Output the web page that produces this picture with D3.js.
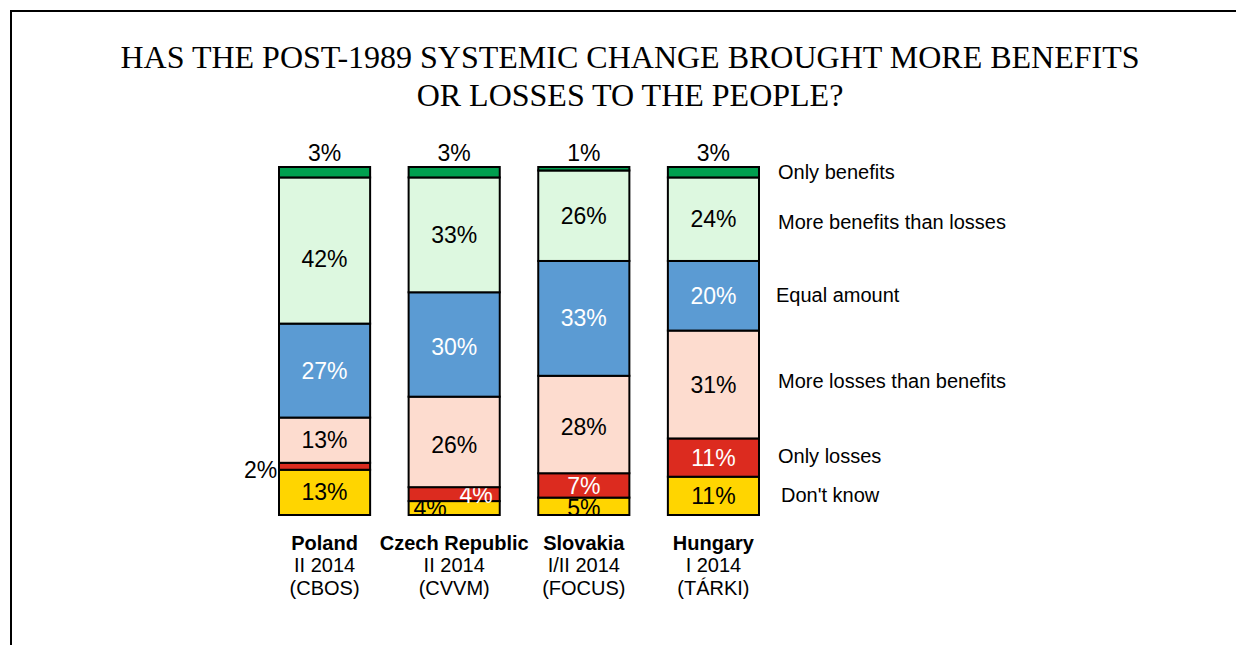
<!DOCTYPE html>
<html>
<head>
<meta charset="utf-8">
<script src="https://cdn.jsdelivr.net/npm/d3@7"></script>
<style>
  body { margin: 0; background: #fff; }
  text { font-family: Arial, "Liberation Sans", sans-serif; }
</style>
</head>
<body>
<svg width="1236" height="645"></svg>
<script>
var countries = ["Poland", "Czech Republic", "Slovakia", "Hungary"];
var surveyDates = ["II 2014", "II 2014", "I/II 2014", "I 2014"];
var surveySources = ["(CBOS)", "(CVVM)", "(FOCUS)", "(TÁRKI)"];

// stacked bottom -> top
var answers = ["Don't know", "Only losses", "More losses than benefits",
               "Equal amount", "More benefits than losses", "Only benefits"];
var dontKnow      = [13, 4, 5, 11];
var onlyLosses    = [2, 4, 7, 11];
var moreLosses    = [13, 26, 28, 31];
var equalAmount   = [27, 30, 33, 20];
var moreBenefits  = [42, 33, 26, 24];
var onlyBenefits  = [3, 3, 1, 3];

var colors = ["#FFD500", "#DC2B1F", "#FDDCCF", "#5B9BD3", "#DDF8E0", "#00A04F"];
var whiteText = {"Only losses": true, "Equal amount": true};

var svg = d3.select("svg"),
    width = +svg.attr("width"),
    height = +svg.attr("height");

// frame
svg.append("rect")
    .attr("x", 11).attr("y", 11)
    .attr("width", 1400).attr("height", 800)
    .attr("fill", "none").attr("stroke", "#000").attr("stroke-width", 2);

// title
var title = svg.append("g")
    .attr("font-size", 32)
    .attr("text-anchor", "middle");
title.append("text").attr("x", 630).attr("y", 68)
    .style("font-family", "'Times New Roman', 'Liberation Serif', serif")
    .text("HAS THE POST-1989 SYSTEMIC CHANGE BROUGHT MORE BENEFITS");
title.append("text").attr("x", 630).attr("y", 106)
    .style("font-family", "'Times New Roman', 'Liberation Serif', serif")
    .text("OR LOSSES TO THE PEOPLE?");

var rows = countries.map(function(c, i) {
  return {
    country: c,
    "Don't know": dontKnow[i],
    "Only losses": onlyLosses[i],
    "More losses than benefits": moreLosses[i],
    "Equal amount": equalAmount[i],
    "More benefits than losses": moreBenefits[i],
    "Only benefits": onlyBenefits[i]
  };
});

var x = d3.scaleBand()
    .domain(countries)
    .range([279, 759])
    .paddingInner(0.297)
    .paddingOuter(0);

var y = d3.scaleLinear()
    .domain([0, 100])
    .range([515, 167]);

var color = d3.scaleOrdinal().domain(answers).range(colors);

var series = d3.stack().keys(answers)(rows);

var layer = svg.append("g").selectAll("g")
    .data(series)
    .enter().append("g")
      .attr("fill", function(d) { return color(d.key); });

layer.selectAll("rect")
    .data(function(d) { return d.map(function(p) { p.key = d.key; return p; }); })
    .enter().append("rect")
      .attr("x", function(d) { return x(d.data.country); })
      .attr("y", function(d) { return y(d[1]); })
      .attr("width", x.bandwidth())
      .attr("height", function(d) { return y(d[0]) - y(d[1]); })
      .attr("stroke", "#000")
      .attr("stroke-width", 2);

// label nudges (dx, dy from the default centred spot)
var nudge = {
  "Poland|More benefits than losses": {dx: 0, dy: 8},
  "Poland|Only losses": {dx: -64, dy: 4, outside: true},
  "Czech Republic|Equal amount": {dx: 0, dy: 3},
  "Czech Republic|More losses than benefits": {dx: 0, dy: 3},
  "Czech Republic|Only losses": {dx: 22, dy: 1},
  "Czech Republic|Don't know": {dx: -24, dy: 0},
  "Slovakia|More losses than benefits": {dx: 0, dy: 2},
  "Slovakia|Only losses": {dx: 0, dy: 1},
  "Slovakia|Don't know": {dx: 0, dy: 2}
};
function nudgeOf(d) { return nudge[d.data.country + "|" + d.key] || {dx: 0, dy: 0}; }

layer.selectAll("text")
    .data(function(d) { return d; })
    .enter().append("text")
      .attr("text-anchor", "middle")
      .attr("font-size", 23)
      .attr("fill", function(d) {
        if (nudgeOf(d).outside) return "#000";
        return whiteText[d.key] ? "#fff" : "#000";
      })
      .attr("x", function(d) { return x(d.data.country) + x.bandwidth() / 2 + nudgeOf(d).dx; })
      .attr("y", function(d) {
        if (d.key === "Only benefits") return y(d[1]) - 6;
        return (y(d[0]) + y(d[1])) / 2 + 8 + nudgeOf(d).dy;
      })
      .text(function(d) { return (d[1] - d[0]) + "%"; });

// legend next to the last bar
var legendDx = [3, 0, 0, -2, 0, 0];
var legendDy = [-1, -2, -4, -1, 3, 0];
var last = series.map(function(s) { return s[s.length - 1]; });
svg.append("g").selectAll("text")
    .data(last)
    .enter().append("text")
      .attr("x", function(d, i) { return 778 + legendDx[i]; })
      .attr("y", function(d, i) { return (y(d[0]) + y(d[1])) / 2 + 7 + legendDy[i]; })
      .attr("font-size", 20)
      .text(function(d) { return d.key; });

// category labels
var cat = svg.append("g").selectAll("text")
    .data(countries)
    .enter().append("text")
      .attr("text-anchor", "middle")
      .attr("font-size", 20)
      .attr("x", function(d) { return x(d) + x.bandwidth() / 2; })
      .attr("y", 550);
cat.append("tspan").attr("font-weight", "bold").text(function(d) { return d; });
cat.append("tspan")
    .attr("x", function(d) { return x(d) + x.bandwidth() / 2; })
    .attr("dy", 22)
    .text(function(d, i) { return surveyDates[i]; });
cat.append("tspan")
    .attr("x", function(d) { return x(d) + x.bandwidth() / 2; })
    .attr("dy", 23)
    .text(function(d, i) { return surveySources[i]; });
</script>
</body>
</html>
